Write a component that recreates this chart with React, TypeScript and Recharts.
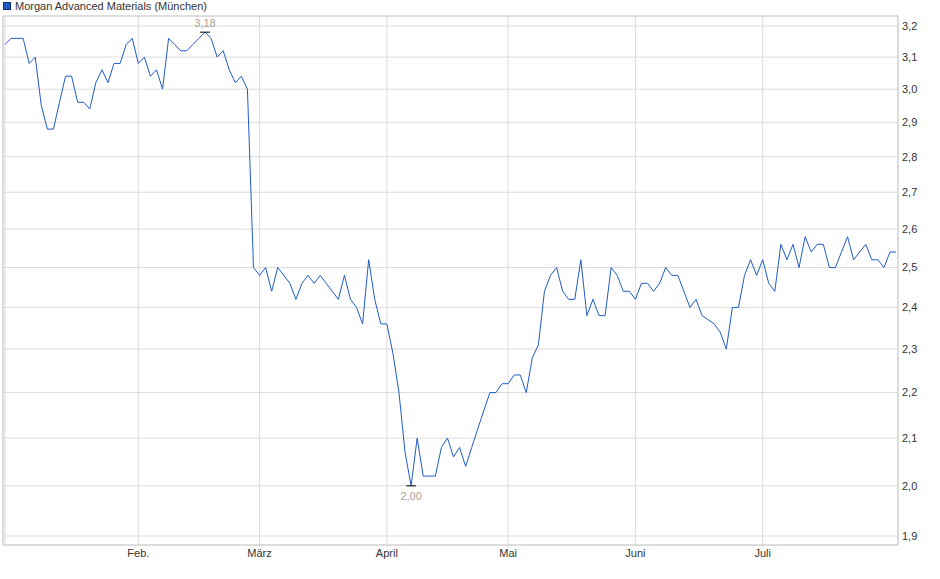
import { CartesianGrid, Line, LineChart, ReferenceArea, XAxis, YAxis } from "recharts";

const TITLE = "Morgan Advanced Materials (München)";

// Schlusskurse, ein Wert pro Handelstag (Jan. bis Ende Juli)
const prices = [
  3.14, 3.16, 3.16, 3.16, 3.08, 3.1, 2.95, 2.88, 2.88, 2.96,
  3.04, 3.04, 2.96, 2.96, 2.94, 3.02, 3.06, 3.02, 3.08, 3.08,
  3.14, 3.16, 3.08, 3.1, 3.04, 3.06, 3.0, 3.16, 3.14, 3.12,
  3.12, 3.14, 3.16, 3.18, 3.16, 3.1, 3.12, 3.06, 3.02, 3.04,
  3.0, 2.5, 2.48, 2.5, 2.44, 2.5, 2.48, 2.46, 2.42, 2.46,
  2.48, 2.46, 2.48, 2.46, 2.44, 2.42, 2.48, 2.42, 2.4, 2.36,
  2.52, 2.42, 2.36, 2.36, 2.29, 2.2, 2.07, 2.0, 2.1, 2.02,
  2.02, 2.02, 2.08, 2.1, 2.06, 2.08, 2.04, 2.08, 2.12, 2.16,
  2.2, 2.2, 2.22, 2.22, 2.24, 2.24, 2.2, 2.28, 2.31, 2.44,
  2.48, 2.5, 2.44, 2.42, 2.42, 2.52, 2.38, 2.42, 2.38, 2.38,
  2.5, 2.48, 2.44, 2.44, 2.42, 2.46, 2.46, 2.44, 2.46, 2.5,
  2.48, 2.48, 2.44, 2.4, 2.42, 2.38, 2.37, 2.36, 2.34, 2.3,
  2.4, 2.4, 2.48, 2.52, 2.48, 2.52, 2.46, 2.44, 2.56, 2.52,
  2.56, 2.5, 2.58, 2.54, 2.56, 2.56, 2.5, 2.5, 2.54, 2.58,
  2.52, 2.54, 2.56, 2.52, 2.52, 2.5, 2.54, 2.54,
];

// erster Handelstag je Monat (Index in prices)
const monthTicks = [0, 22, 42, 63, 83, 104, 125];
const monthLabels = ["", "Feb.", "März", "April", "Mai", "Juni", "Juli"];

const priceTicks = [1.9, 2.0, 2.1, 2.2, 2.3, 2.4, 2.5, 2.6, 2.7, 2.8, 2.9, 3.0, 3.1, 3.2];

const data = prices.map((p, i) => ({ i, p }));
const hi = Math.max(...prices);
const lo = Math.min(...prices);

const FONT = '"Liberation Sans", Arial, sans-serif';
const comma = (v: number, d: number) => v.toFixed(d).replace(".", ",");

function ExtremeLabel(props: any) {
  const { x, y, value } = props;
  if (value !== hi && value !== lo) return null;
  const top = value === hi;
  return (
    <g>
      <line x1={x - 5} x2={x + 5} y1={y} y2={y} stroke="#000" strokeWidth={1} />
      <text
        x={x}
        y={top ? y - 9.5 : y + 10.5}
        textAnchor="middle"
        dominantBaseline="central"
        fontSize={11}
        fontFamily={FONT}
        fill="#a89f91"
      >
        {comma(value, 2)}
      </text>
    </g>
  );
}

export default function App() {
  return (
    <div
      style={{
        position: "absolute",
        left: 0,
        top: 0,
        width: 940,
        height: 579,
        background: "#fff",
        fontFamily: FONT,
      }}
    >
      <div
        style={{
          position: "absolute",
          left: 3,
          top: 2,
          width: 6,
          height: 6,
          background: "#1f5bc6",
          border: "1px solid #0d2d70",
        }}
      />
      <div
        style={{
          position: "absolute",
          left: 15,
          top: 0,
          fontSize: 11,
          lineHeight: "12px",
          color: "#333",
          whiteSpace: "nowrap",
        }}
      >
        {TITLE}
      </div>
      <LineChart width={940} height={579} data={data} margin={{ top: 16, right: 0, bottom: 0, left: 3 }}>
        <CartesianGrid stroke="#dcdcdc" />
        <XAxis
          type="number"
          dataKey="i"
          domain={[-0.32, 147.32]}
          allowDataOverflow
          ticks={monthTicks}
          interval={0}
          tickFormatter={(v: number) => monthLabels[monthTicks.indexOf(v)] ?? ""}
          axisLine={false}
          tickLine={{ stroke: "#dcdcdc" }}
          tickSize={2}
          tickMargin={2}
          height={34}
          tick={{ fontSize: 11, fontFamily: FONT, fill: "#333" }}
        />
        <YAxis
          orientation="right"
          scale="log"
          domain={[1.8826, 3.233]}
          allowDataOverflow
          ticks={priceTicks}
          interval={0}
          tickFormatter={(v: number) => comma(v, 1)}
          axisLine={false}
          tickLine={false}
          tickSize={0}
          tickMargin={4}
          width={42}
          tick={{ fontSize: 11, fontFamily: FONT, fill: "#333" }}
        />
        <ReferenceArea
          x1={-0.32}
          x2={147.32}
          y1={1.8826}
          y2={3.233}
          fill="none"
          stroke="#cccccc"
          ifOverflow="visible"
        />
        <Line
          type="linear"
          dataKey="p"
          stroke="#1f5bc6"
          strokeWidth={1}
          dot={false}
          isAnimationActive={false}
          label={<ExtremeLabel />}
        />
      </LineChart>
    </div>
  );
}
